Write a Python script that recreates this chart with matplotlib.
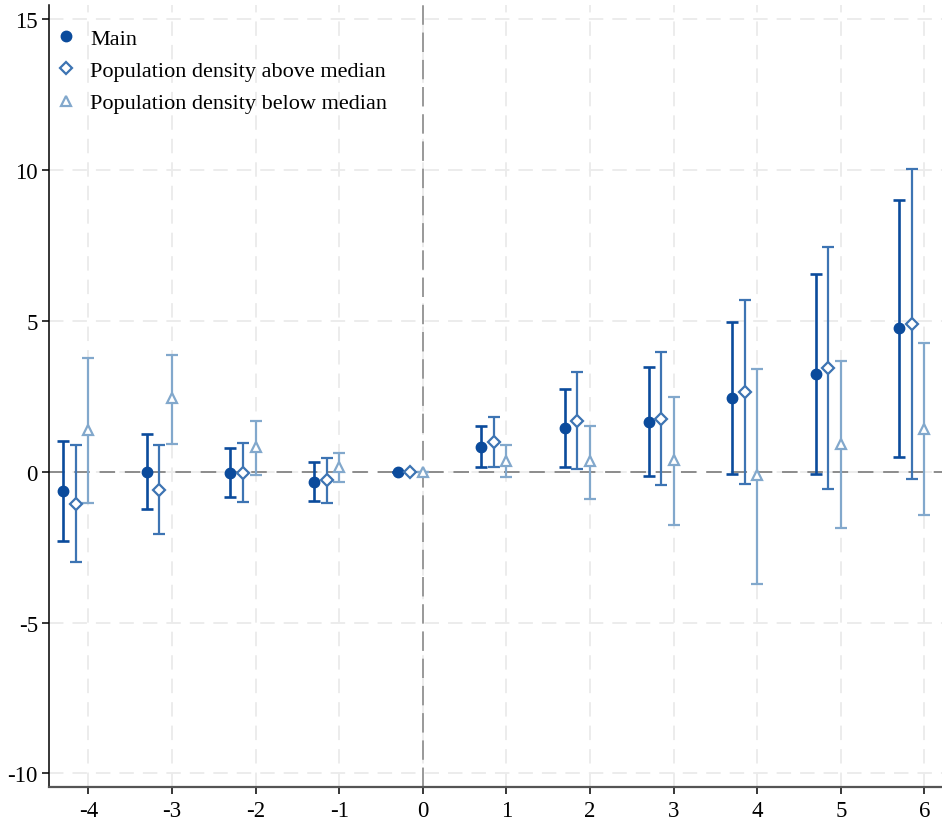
import matplotlib
matplotlib.use("Agg")
import matplotlib.pyplot as plt
import numpy as np

# event time
periods = [-4, -3, -2, -1, 0, 1, 2, 3, 4, 5, 6]

# main estimate
main_est = [-0.64, 0.00, -0.04, -0.34, 0.0, 0.83, 1.45, 1.66, 2.43, 3.24, 4.76]
main_hi = [1.02, 1.25, 0.79, 0.33, 0.0, 1.51, 2.75, 3.47, 4.95, 6.56, 9.02]
main_lo = [-2.29, -1.22, -0.85, -0.97, 0.0, 0.16, 0.16, -0.13, -0.08, -0.06, 0.49]

# population density above median
above_est = [-1.08, -0.59, -0.03, -0.27, 0.0, 0.98, 1.68, 1.76, 2.64, 3.44, 4.90]
above_hi = [0.87, 0.88, 0.95, 0.47, 0.0, 1.81, 3.29, 3.96, 5.70, 7.45, 10.03]
above_lo = [-2.99, -2.05, -1.00, -1.04, 0.0, 0.16, 0.08, -0.44, -0.42, -0.57, -0.25]

# population density below median
below_est = [1.37, 2.43, 0.81, 0.16, 0.0, 0.36, 0.34, 0.39, -0.12, 0.93, 1.43]
below_hi = [3.76, 3.87, 1.68, 0.61, 0.0, 0.88, 1.51, 2.48, 3.41, 3.67, 4.27]
below_lo = [-1.05, 0.92, -0.12, -0.35, 0.0, -0.16, -0.89, -1.75, -3.73, -1.87, -1.44]

labels = ["Main", "Population density above median", "Population density below median"]

plt.rcParams['font.family'] = ['Liberation Serif', 'DejaVu Serif']
plt.rcParams['axes.unicode_minus'] = False  # plain hyphens like the original

fig = plt.figure(figsize=(9.42, 8.28), dpi=100)
ax = fig.add_axes([0.052, 0.048, 0.948, 0.945])

x = np.array(periods, dtype=float)

def draw(xpos, est, lo, hi, color, marker, ms, lw, filled, label):
    est = np.array(est)
    err = [est - np.array(lo), np.array(hi) - est]
    ax.errorbar(xpos, est, yerr=err, fmt='none', ecolor=color, elinewidth=lw,
                capsize=4, capthick=lw, zorder=3)
    if filled:
        ax.plot(xpos, est, linestyle='none', marker=marker, markersize=ms,
                color=color, zorder=4, label=label)
    else:
        ax.plot(xpos, est, linestyle='none', marker=marker, markersize=ms,
                markerfacecolor='white', markeredgecolor=color, markeredgewidth=1.6,
                zorder=4, label=label)

draw(x - 0.3, main_est, main_lo, main_hi, '#0b4b9c', 'o', 7.5, 1.9, True, labels[0])
draw(x - 0.15, above_est, above_lo, above_hi, '#3d74b3', 'D', 6.5, 1.6, False, labels[1])
draw(x, below_est, below_lo, below_hi, '#82a8cc', '^', 6.5, 1.6, False, labels[2])

# reference lines
ax.axhline(0, color='#8c8c8c', linewidth=1.4, dashes=(8, 5), zorder=2)
ax.axvline(0, color='#999999', linewidth=1.4, dashes=(10, 4), zorder=2)

ax.set_xlim(-4.47, 6.21)
ax.set_ylim(-10.46, 15.48)
ax.set_xticks(periods)
ax.set_yticks([-10, -5, 0, 5, 10, 15])

# light dashed grid
ax.grid(True, color='#ebebeb', linewidth=1.3, dashes=(8, 5))
ax.set_axisbelow(True)

ax.spines['top'].set_visible(False)
ax.spines['right'].set_visible(False)
ax.spines['left'].set_linewidth(1.1)
ax.spines['bottom'].set_linewidth(1.6)
ax.spines['bottom'].set_color('#555555')
ax.tick_params(axis='both', direction='out', length=5, width=1.1, labelsize=16.5)
ax.tick_params(axis='x', pad=4)
ax.tick_params(axis='y', pad=3)

ax.legend(loc='upper left', bbox_to_anchor=(0.004, 0.970), frameon=False, fontsize=16,
          handletextpad=0.48, labelspacing=0.53, borderaxespad=0, borderpad=0,
          handlelength=1.2)

fig.savefig("out.png", dpi=100)
